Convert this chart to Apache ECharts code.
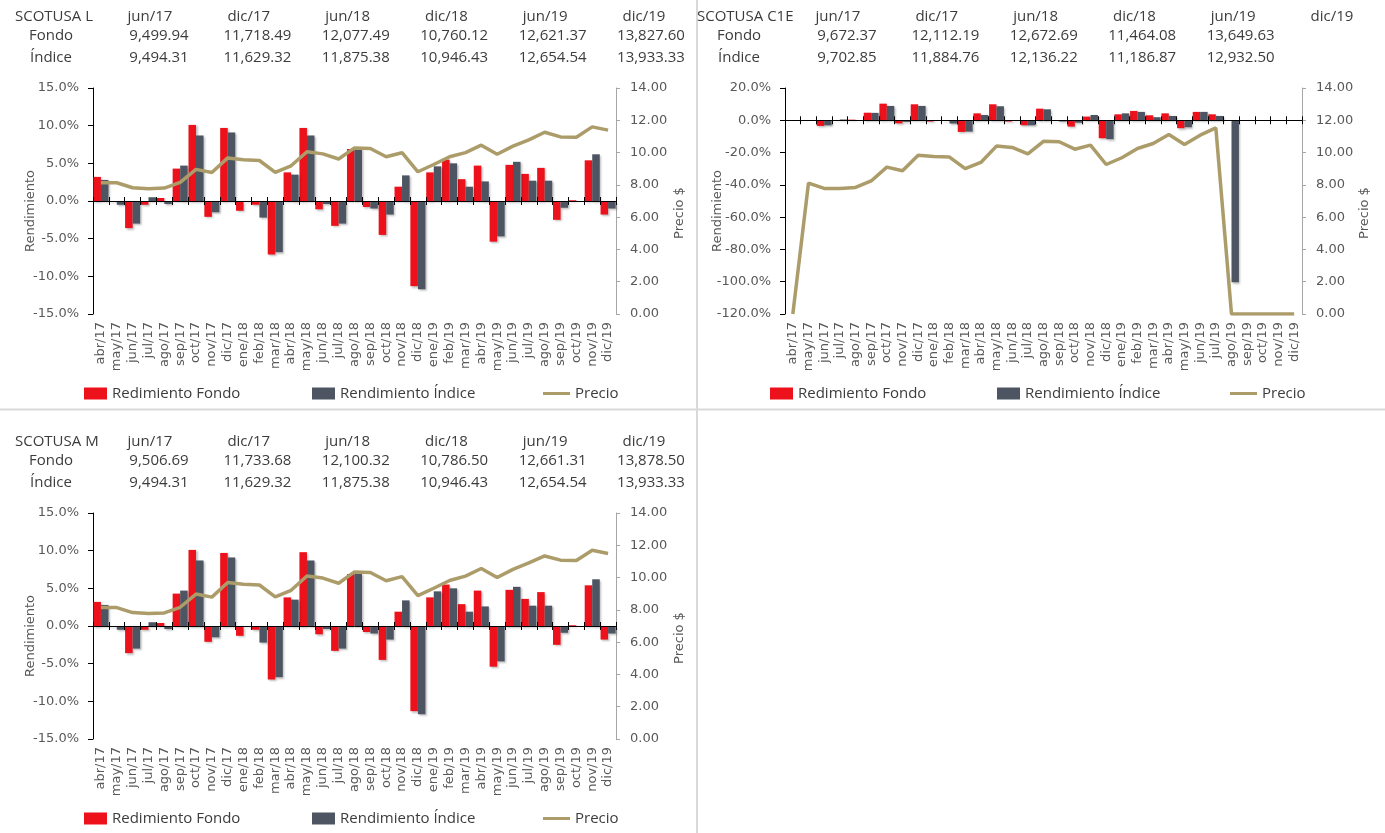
<!DOCTYPE html>
<html>
<head>
<meta charset="utf-8">
<script src="https://cdn.jsdelivr.net/npm/echarts@6/dist/echarts.min.js"></script>
<style>
  html, body { margin: 0; padding: 0; background: #fff; }
  #main { width: 1385px; height: 833px; }
</style>
</head>
<body>
<div id="main"></div>
<script>
// meses del eje x
var meses = ['abr/17','may/17','jun/17','jul/17','ago/17','sep/17','oct/17','nov/17','dic/17',
  'ene/18','feb/18','mar/18','abr/18','may/18','jun/18','jul/18','ago/18','sep/18','oct/18','nov/18','dic/18',
  'ene/19','feb/19','mar/19','abr/19','may/19','jun/19','jul/19','ago/19','sep/19','oct/19','nov/19','dic/19'];

// fechas de la tabla de cabecera
var fechasTabla = ['jun/17','dic/17','jun/18','dic/18','jun/19','dic/19'];

// SCOTUSA L
var fondoL = [3.2,-0.1,-3.6,-0.5,0.4,4.3,10.1,-2.1,9.7,-1.3,-0.5,-7.1,3.8,9.7,-1.1,-3.3,6.9,-0.8,-4.5,1.9,-11.3,3.8,5.5,2.9,4.7,-5.4,4.8,3.6,4.4,-2.5,0.1,5.4,-1.8];
var indiceL = [2.8,-0.5,-3.0,0.5,-0.4,4.7,8.7,-1.5,9.1,-0.1,-2.2,-6.8,3.5,8.7,-0.4,-3.0,7.0,-1.0,-1.8,3.4,-11.7,4.6,5.0,1.9,2.6,-4.7,5.2,2.7,2.7,-0.9,0.0,6.2,-1.0];
var precioL = [8.13,8.13,7.82,7.76,7.80,8.15,8.96,8.77,9.67,9.55,9.51,8.77,9.18,10.05,9.92,9.60,10.29,10.25,9.74,9.99,8.81,9.26,9.74,10.00,10.46,9.90,10.40,10.79,11.26,10.97,10.95,11.59,11.39];
var tablaFondoL = [9499.94,11718.49,12077.49,10760.12,12621.37,13827.60];
var tablaIndiceL = [9494.31,11629.32,11875.38,10946.43,12654.54,13933.33];

// SCOTUSA C1E
var fondoC1E = [0,0,-3.5,-0.3,0.4,4.7,10.3,-1.9,9.9,-0.8,-0.4,-7.2,4.3,9.9,-0.8,-3.1,7.2,-0.3,-3.9,2.3,-11.1,3.7,5.8,3.1,4.3,-4.9,5.2,3.7,null,null,null,null,null];
var indiceC1E = [0,0,-3.1,0.5,-0.2,4.6,8.9,-1.0,8.9,-0.1,-2.0,-7.0,3.3,8.7,-0.4,-3.1,6.8,-0.8,-1.5,3.3,-11.7,4.3,5.2,1.9,2.7,-4.3,5.2,2.7,-100.4,null,null,null,null];
var precioC1E = [0,8.11,7.78,7.78,7.84,8.24,9.10,8.87,9.84,9.76,9.72,9.00,9.39,10.40,10.32,9.92,10.70,10.67,10.21,10.46,9.26,9.68,10.25,10.56,11.12,10.50,11.08,11.53,0,0,0,0,0];
var tablaFondoC1E = [9672.37,12112.19,12672.69,11464.08,13649.63,null];
var tablaIndiceC1E = [9702.85,11884.76,12136.22,11186.87,12932.50,null];

// SCOTUSA M
var fondoM = [3.2,-0.1,-3.6,-0.5,0.4,4.3,10.1,-2.1,9.7,-1.3,-0.5,-7.1,3.8,9.8,-1.1,-3.3,6.9,-0.8,-4.5,1.9,-11.3,3.8,5.5,2.9,4.7,-5.4,4.8,3.6,4.5,-2.5,0.1,5.4,-1.8];
var indiceM = [2.8,-0.5,-3.0,0.5,-0.4,4.7,8.7,-1.5,9.1,-0.1,-2.2,-6.8,3.5,8.7,-0.4,-3.0,7.0,-1.0,-1.8,3.4,-11.7,4.6,5.0,1.9,2.6,-4.7,5.2,2.7,2.7,-0.9,0.0,6.2,-1.0];
var precioM = [8.14,8.14,7.83,7.77,7.81,8.16,8.98,8.79,9.70,9.58,9.54,8.80,9.21,10.10,9.97,9.65,10.35,10.31,9.80,10.06,8.88,9.34,9.82,10.09,10.56,10.00,10.51,10.91,11.34,11.08,11.06,11.69,11.49];
var tablaFondoM = [9506.69,11733.68,12100.32,10786.50,12661.31,13878.50];
var tablaIndiceM = [9494.31,11629.32,11875.38,10946.43,12654.54,13933.33];

var rojo = '#EC111A', gris = '#4D5562', dorado = '#AB9C6A';
var fuenteEje = 'DejaVu Sans', fuenteTabla = 'Open Sans';
var colorEje = '#595959', colorTexto = '#3C3C3C';

var myChart = echarts.init(document.getElementById('main'));

var option = {
  animation: false,
  grid: [], xAxis: [], yAxis: [], series: [], legend: [],
  graphic: [
    { type: 'line', shape: { x1: 697, y1: 0, x2: 697, y2: 833 }, style: { stroke: '#D9D9D9', lineWidth: 2 } },
    { type: 'line', shape: { x1: 0, y1: 409.5, x2: 1385, y2: 409.5 }, style: { stroke: '#D9D9D9', lineWidth: 2 } }
  ]
};

function numero(v) {
  if (v == null) return '';
  return v.toLocaleString('en-US', { minimumFractionDigits: 2, maximumFractionDigits: 2 });
}

function texto(t, x, y, align) {
  option.graphic.push({
    type: 'text', x: x, y: y, silent: true,
    style: { text: t, fill: colorTexto, font: '15px "' + fuenteTabla + '"', align: align || 'center', verticalAlign: 'middle' }
  });
}

// arma un grafico completo: tabla, ejes, series y leyenda
function agregarGrafico(c) {
  var g = option.grid.length;
  var xb = option.xAxis.length;
  var yb = option.yAxis.length;

  // tabla de cabecera
  texto(c.nombre, c.tituloX, c.oy + 17, 'left');
  texto('Fondo', c.ox + 51, c.oy + 36);
  texto('Índice', c.ox + 51, c.oy + 58);
  for (var i = 0; i < fechasTabla.length; i++) {
    texto(fechasTabla[i], c.ox + 150 + 98.8 * i, c.oy + 17);
    texto(numero(c.tablaFondo[i]), c.ox + 159 + 98.4 * i, c.oy + 36);
    texto(numero(c.tablaIndice[i]), c.ox + 159 + 98.4 * i, c.oy + 58);
  }

  option.grid.push({ left: c.left, top: c.top, width: c.width, height: 226 });

  var etiqueta = { fontFamily: fuenteEje, fontSize: 13, color: colorEje };

  option.xAxis.push({
    gridIndex: g, type: 'category', data: meses, position: 'bottom',
    axisLine: { show: false, onZero: false }, axisTick: { show: false },
    axisLabel: Object.assign({ rotate: 90, interval: 0, margin: 8 }, etiqueta)
  });
  option.xAxis.push({
    gridIndex: g, type: 'category', data: meses, position: 'bottom', z: 4,
    axisLine: { onZero: true, onZeroAxisIndex: yb, lineStyle: { color: '#000', width: 1 } },
    axisTick: { show: true, interval: 0, length: 4, lineStyle: { color: '#000' } },
    axisLabel: { show: false, interval: 0 }
  });
  option.xAxis.push({
    gridIndex: g, type: 'category', data: meses, position: 'bottom', z: 4,
    axisLine: { show: false, onZero: true, onZeroAxisIndex: yb },
    axisTick: { show: true, interval: 0, inside: true, length: 4, lineStyle: { color: '#000' } },
    axisLabel: { show: false, interval: 0 }
  });

  option.yAxis.push({
    gridIndex: g, type: 'value', position: 'left',
    min: c.yMin, max: c.yMax, interval: c.yInt,
    name: 'Rendimiento', nameLocation: 'middle', nameRotate: 90, nameGap: c.gapIzq, nameMoveOverlap: false,
    nameTextStyle: { fontFamily: fuenteEje, fontSize: 13, color: colorEje, padding: [0, 20, 0, 0] },
    axisLine: { show: true, lineStyle: { color: '#000' } },
    axisTick: { show: true, length: 5, lineStyle: { color: '#000' } },
    splitLine: { show: false },
    axisLabel: Object.assign({ margin: 14, formatter: function (v) { return v.toFixed(1) + '%'; } }, etiqueta)
  });
  option.yAxis.push({
    gridIndex: g, type: 'value', position: 'right',
    min: 0, max: 14, interval: 2,
    name: 'Precio $', nameLocation: 'middle', nameRotate: 90, nameGap: c.gapDer, nameMoveOverlap: false,
    nameTextStyle: { fontFamily: fuenteEje, fontSize: 13, color: colorEje, padding: [0, 24, 0, 0] },
    axisLine: { show: true, lineStyle: { color: '#A6A6A6' } },
    axisTick: { show: true, length: 4, lineStyle: { color: '#A6A6A6' } },
    splitLine: { show: false },
    axisLabel: Object.assign({ margin: 14, formatter: function (v) { return v.toFixed(2); } }, etiqueta)
  });

  var sombra = { shadowBlur: 2, shadowOffsetX: 1.5, shadowOffsetY: 1.5, shadowColor: 'rgba(0,0,0,0.25)' };

  option.series.push({
    name: 'Redimiento Fondo', type: 'bar', xAxisIndex: xb + 1, yAxisIndex: yb,
    data: c.fondo, barGap: '0%', barCategoryGap: '5%',
    itemStyle: Object.assign({ color: rojo }, sombra)
  });
  option.series.push({
    name: 'Rendimiento Índice', type: 'bar', xAxisIndex: xb + 1, yAxisIndex: yb,
    data: c.indice, barGap: '0%', barCategoryGap: '5%',
    itemStyle: Object.assign({ color: gris }, sombra)
  });
  option.series.push({
    name: 'Precio', type: 'line', xAxisIndex: xb + 1, yAxisIndex: yb + 1,
    data: c.precio, symbol: 'none', z: 5,
    lineStyle: { color: dorado, width: 3.5 }, itemStyle: { color: dorado }
  });

  var textoLeyenda = { fontFamily: fuenteTabla, fontSize: 15, color: colorTexto };
  var sinSombra = { shadowBlur: 0, shadowOffsetX: 0, shadowOffsetY: 0 };
  var arriba = c.leyendaY - 7;
  option.legend.push({ data: ['Redimiento Fondo'], left: c.leyenda[0], top: arriba, padding: 0,
    icon: 'rect', itemWidth: 23, itemHeight: 12, textStyle: textoLeyenda, itemStyle: sinSombra, selectedMode: false });
  option.legend.push({ data: ['Rendimiento Índice'], left: c.leyenda[1], top: arriba, padding: 0,
    icon: 'rect', itemWidth: 23, itemHeight: 12, textStyle: textoLeyenda, itemStyle: sinSombra, selectedMode: false });
  option.legend.push({ data: ['Precio'], left: c.leyenda[2], top: arriba, padding: 0,
    icon: 'rect', itemWidth: 27, itemHeight: 3, textStyle: textoLeyenda, itemStyle: sinSombra, selectedMode: false });
}

agregarGrafico({
  nombre: 'SCOTUSA L', tituloX: 15, ox: 0, oy: 0,
  left: 93, top: 88, width: 523, yMin: -15, yMax: 15, yInt: 5, gapIzq: 56, gapDer: 57,
  fondo: fondoL, indice: indiceL, precio: precioL,
  tablaFondo: tablaFondoL, tablaIndice: tablaIndiceL,
  leyenda: [84, 312, 543], leyendaY: 393
});

agregarGrafico({
  nombre: 'SCOTUSA C1E', tituloX: 697, ox: 688, oy: 0,
  left: 785, top: 88, width: 517, yMin: -120, yMax: 20, yInt: 20, gapIzq: 61, gapDer: 56,
  fondo: fondoC1E, indice: indiceC1E, precio: precioC1E,
  tablaFondo: tablaFondoC1E, tablaIndice: tablaIndiceC1E,
  leyenda: [770, 997, 1230], leyendaY: 393
});

agregarGrafico({
  nombre: 'SCOTUSA M', tituloX: 15, ox: 0, oy: 425,
  left: 93, top: 513, width: 523, yMin: -15, yMax: 15, yInt: 5, gapIzq: 56, gapDer: 57,
  fondo: fondoM, indice: indiceM, precio: precioM,
  tablaFondo: tablaFondoM, tablaIndice: tablaIndiceM,
  leyenda: [84, 312, 543], leyendaY: 818
});

myChart.setOption(option);
</script>
</body>
</html>
